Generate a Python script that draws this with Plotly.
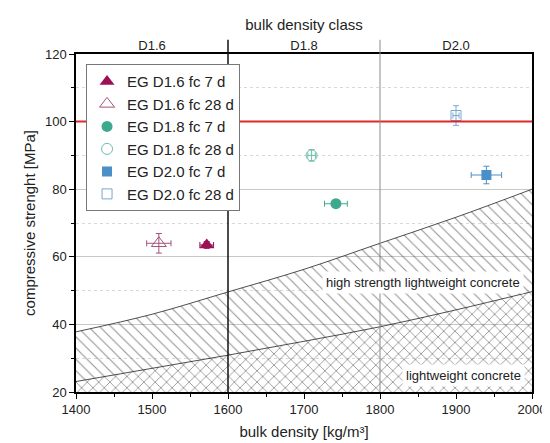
import plotly.graph_objects as go

# limit curves of the concrete classes
density = [1400, 1500, 1600, 1700, 1800, 1900, 2000]
hslwc_lower = [37.8, 43.0, 49.6, 56.3, 64.0, 71.7, 80.0]
lwc_upper = [23.1, 27.0, 30.9, 35.0, 39.3, 44.3, 49.7]
axis_floor = [20, 20, 20, 20, 20, 20, 20]

# measured points
series_names = ["EG D1.6 fc 7 d", "EG D1.6 fc 28 d", "EG D1.8 fc 7 d",
                "EG D1.8 fc 28 d", "EG D2.0 fc 7 d", "EG D2.0 fc 28 d"]
bulk_density = [1572, 1509, 1742, 1710, 1940, 1900]
bulk_density_err = [9, 16, 15, 5, 20, 4]
strength = [63.5, 64.0, 75.7, 90.0, 84.2, 101.8]
strength_err = [1.0, 2.9, 1.0, 1.7, 2.6, 2.9]

class_bounds = [1600, 1800]
class_centers = [1500, 1700, 1900]
class_labels = ["D1.6", "D1.8", "D2.0"]
hsc_limit = 100

styles = [
    dict(symbol="triangle-up", size=13, color="#9c1153", line=dict(width=0)),
    dict(symbol="triangle-up-open", size=13, color="#a4527c"),
    dict(symbol="circle", size=11, color="#3daa8f", line=dict(width=0)),
    dict(symbol="circle-open", size=11, color="#6cbfac"),
    dict(symbol="square", size=10, color="#4b8fc9", line=dict(width=0)),
    dict(symbol="square-open", size=10, color="#7aa6cf"),
]
bar_colors = ["#9c1153", "#a4527c", "#3daa8f", "#6cbfac", "#4b8fc9", "#7aa6cf"]

fig = go.Figure()

# hatched areas
fig.add_trace(go.Scatter(x=density, y=axis_floor, mode="lines",
                         line=dict(width=0), showlegend=False, hoverinfo="skip"))
fig.add_trace(go.Scatter(
    x=density, y=lwc_upper, mode="lines", fill="tonexty",
    fillcolor="rgba(0,0,0,0)", line=dict(color="#222", width=0.8, shape="spline"),
    fillpattern=dict(shape="x", size=8, solidity=0.2, fgcolor="#222",
                     bgcolor="rgba(0,0,0,0)"),
    showlegend=False, hoverinfo="skip"))
fig.add_trace(go.Scatter(
    x=density, y=hslwc_lower, mode="lines", fill="tonexty",
    fillcolor="rgba(0,0,0,0)", line=dict(color="#222", width=0.8, shape="spline"),
    fillpattern=dict(shape="\\", size=8, solidity=0.13, fgcolor="#222",
                     bgcolor="rgba(0,0,0,0)"),
    showlegend=False, hoverinfo="skip"))

for i, name in enumerate(series_names):
    fig.add_trace(go.Scatter(
        x=[bulk_density[i]], y=[strength[i]], mode="markers", name=name,
        marker=styles[i],
        error_x=dict(type="data", array=[bulk_density_err[i]], color=bar_colors[i],
                     thickness=1, width=3),
        error_y=dict(type="data", array=[strength_err[i]], color=bar_colors[i],
                     thickness=1, width=3),
    ))

fig.add_hline(y=hsc_limit, line=dict(color="#e0282a", width=2))
fig.add_vline(x=class_bounds[0], y0=0, y1=1.042, line=dict(color="#111", width=1.5))
fig.add_vline(x=class_bounds[1], y0=0, y1=1.042, line=dict(color="#8a8a8a", width=1))

fig.add_annotation(x=1856, y=52.3, text="high strength lightweight concrete",
                   showarrow=False, bgcolor="white", borderpad=3,
                   font=dict(size=13, color="#222"))
fig.add_annotation(x=1910, y=24.9, text="lightweight concrete",
                   showarrow=False, bgcolor="white", borderpad=3,
                   font=dict(size=13, color="#222"))

fig.update_layout(
    width=550, height=443,
    margin=dict(l=68, r=23, t=46, b=59),
    plot_bgcolor="white", paper_bgcolor="white",
    font=dict(family="Arial, Liberation Sans, sans-serif", size=13, color="#222"),
    showlegend=True,
    legend=dict(x=0.022, y=0.97, xanchor="left", yanchor="top",
                bgcolor="white", bordercolor="#777", borderwidth=1,
                font=dict(size=15), tracegroupgap=0, traceorder="normal"),
    xaxis=dict(range=[1400, 2000], dtick=100, showgrid=False, zeroline=False,
               showline=True, linecolor="black", linewidth=1.5, mirror=True,
               ticks="outside", ticklen=5, tickcolor="black",
               minor=dict(dtick=50, ticks="outside", ticklen=3, tickcolor="black"),
               title=dict(text="bulk density [kg/m³]", font=dict(size=15), standoff=10)),
    xaxis2=dict(range=[1400, 2000], overlaying="x", side="top",
                tickvals=class_centers, ticktext=class_labels, ticks="",
                showgrid=False, zeroline=False, showline=False,
                title=dict(text="bulk density class", font=dict(size=15), standoff=4)),
    yaxis=dict(range=[20, 120], dtick=20, zeroline=False,
               showgrid=True, gridcolor="#c8c8c8", gridwidth=1,
               showline=True, linecolor="black", linewidth=1.5, mirror=True,
               ticks="outside", ticklen=5, tickcolor="black",
               minor=dict(dtick=10, ticks="outside", ticklen=3, tickcolor="black",
                          showgrid=True, gridcolor="#d8d8d8", griddash="dot"),
               title=dict(text="compressive strenght [MPa]", font=dict(size=15),
                          standoff=6)),
)

# invisible trace to activate the top axis
fig.add_trace(go.Scatter(x=[1400], y=[20], xaxis="x2", mode="markers",
                         marker=dict(opacity=0), showlegend=False, hoverinfo="skip"))

fig.write_html("out.html")
